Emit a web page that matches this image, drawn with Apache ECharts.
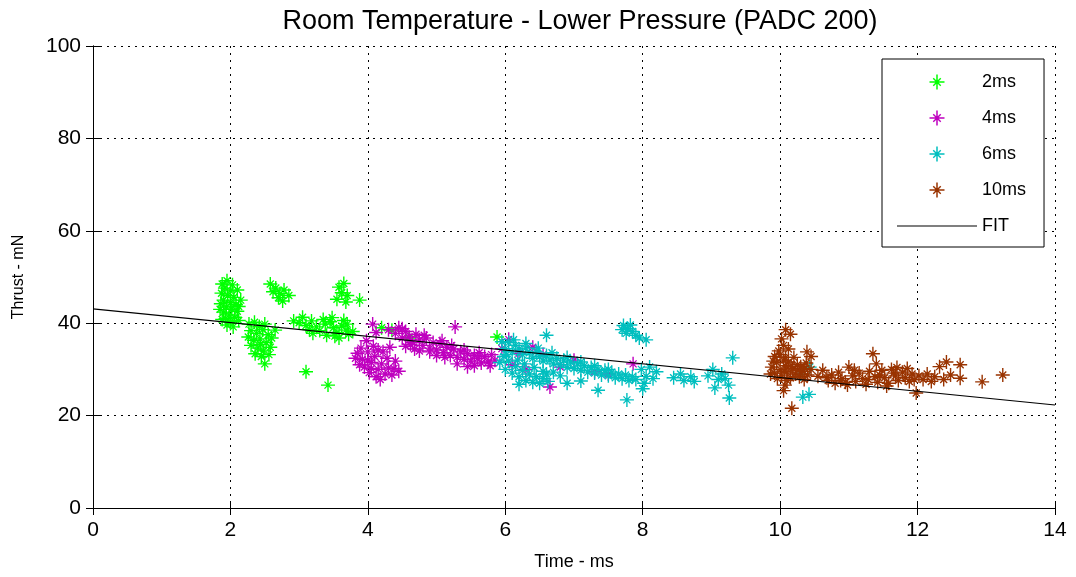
<!DOCTYPE html>
<html>
<head>
<meta charset="utf-8">
<title>Room Temperature - Lower Pressure</title>
<script src="https://cdn.jsdelivr.net/npm/echarts@6/dist/echarts.min.js"></script>
<style>
  html, body { margin: 0; padding: 0; background: #fff; }
  #chart { width: 1076px; height: 577px; }
</style>
</head>
<body>
<div id="chart"></div>
<script>
// [time ms, thrust mN]
var ms2 = [
  [1.88,48.5],[1.95,49.2],[1.92,47.6],[2.0,47.0],[1.87,46.5],[1.96,46.0],[2.05,45.6],[1.9,45.0],
  [2.0,44.5],[2.08,44.0],[1.86,44.2],[1.94,43.5],[2.02,43.0],[2.1,42.6],[1.9,42.4],[1.98,41.8],
  [2.06,41.3],[1.93,41.0],[2.12,40.6],[2.0,40.3],[1.95,39.6],[2.15,45.0],[1.85,43.0],[2.03,48.3],
  [2.1,47.2],[2.12,43.6],[1.88,40.8],[2.04,39.2],
  [2.27,39.8],[2.35,40.2],[2.42,39.3],[2.3,38.4],[2.38,37.8],[2.47,38.6],[2.55,37.5],[2.26,37.0],
  [2.34,36.3],[2.43,36.6],[2.52,35.8],[2.6,36.8],[2.3,35.2],[2.4,34.6],[2.48,34.0],[2.58,34.8],
  [2.36,33.4],[2.45,32.8],[2.5,31.2],[2.65,38.5],[2.5,39.8],[2.44,35.4],[2.56,33.2],
  [2.58,48.5],[2.66,47.6],[2.62,46.8],[2.72,46.4],[2.78,47.2],[2.7,45.5],[2.85,46.0],[2.76,44.8],
  [2.92,40.5],[3.0,40.1],[3.1,39.5],[3.05,41.3],[3.18,40.5],[3.25,39.2],[3.3,38.4],[3.2,37.8],
  [3.38,39.8],[3.45,40.3],[3.5,39.0],[3.55,38.0],[3.62,39.4],[3.68,38.5],[3.72,37.6],[3.58,36.8],
  [3.4,37.4],[3.78,38.2],[3.48,41.2],[3.65,40.6],[3.35,40.8],[3.52,37.2],[3.7,39.8],[3.15,38.6],
  [3.1,29.5],[3.42,26.6],
  [3.58,47.8],[3.65,48.6],[3.62,46.6],[3.7,46.0],[3.55,45.2],[3.68,44.6],[3.88,45.0],
  [5.88,37.0],[4.35,38.5],[4.6,36.8],[4.2,39.0]
];

var ms4 = [
  [3.85,33.5],[3.92,32.2],[4.0,33.8],[4.05,31.5],[3.95,30.5],[4.1,32.8],[4.15,30.0],[4.02,29.3],
  [4.2,31.2],[4.25,29.0],[4.12,28.4],[4.3,30.3],[4.35,28.8],[4.22,33.8],[4.4,31.8],[3.88,31.0],
  [4.08,35.0],[4.18,27.8],[4.45,29.6],[3.98,36.2],[4.07,39.8],[4.12,38.0],
  [3.9,34.6],[4.0,32.0],[4.28,32.4],[4.38,30.2],[4.15,34.2],[3.82,32.4],[4.05,30.2],[4.32,34.8],
  [4.3,38.6],[4.4,37.8],[4.45,39.0],[4.5,36.8],[4.55,38.2],[4.6,37.0],[4.65,35.8],[4.7,37.6],
  [4.75,36.4],[4.8,35.2],[4.85,36.8],[4.9,34.6],[4.95,35.8],[5.0,34.2],[5.05,35.6],[5.1,33.6],
  [5.15,34.8],[5.2,33.0],[5.25,34.4],[5.3,32.6],[5.35,33.8],[5.4,32.2],[5.45,33.4],[5.5,31.8],
  [5.55,33.0],[5.6,32.4],[5.65,31.4],[5.7,32.8],[5.75,31.6],[5.8,33.2],[5.85,32.0],[4.55,35.0],
  [4.75,34.0],[5.0,33.0],[5.3,31.2],[5.27,39.2],[5.55,30.8],
  [4.5,38.8],[4.62,35.4],[4.82,37.4],[4.9,33.8],[5.08,36.2],[5.12,32.6],[5.22,35.2],[5.4,34.2],
  [5.62,33.6],[5.78,30.8],[4.68,34.4],[5.45,30.6],
  [5.95,34.5],[6.05,36.5],[6.2,33.5],[6.4,34.8],[6.55,33.2],[6.65,26.2],[6.8,30.5],[7.0,32.0],
  [7.3,29.5],[7.5,29.0],[7.86,31.2],[6.1,31.0],[6.3,30.0]
];

var ms6 = [
  [5.95,36.0],[6.0,34.5],[6.05,35.8],[6.1,33.8],[6.15,35.2],[6.2,34.4],[6.25,33.2],[6.3,34.6],
  [6.35,33.6],[6.4,32.4],[6.45,33.8],[6.5,32.8],[6.55,31.8],[6.6,33.0],[6.65,32.0],[6.7,31.2],
  [6.75,32.4],[6.8,31.0],[6.85,32.0],[6.9,30.4],[6.95,31.6],[7.0,30.2],[7.05,31.2],[7.1,29.8],
  [7.15,30.8],[7.2,29.4],[7.25,30.4],[7.3,29.2],[7.35,30.0],[7.4,28.8],[7.45,29.8],[7.5,28.6],
  [7.55,29.4],[7.6,28.2],[7.65,29.0],[7.7,28.0],[7.75,28.8],[7.8,27.6],[7.85,28.4],[7.9,27.8],
  [6.12,36.4],[6.3,35.6],[6.48,34.6],[6.68,33.6],[6.9,32.6],[7.1,31.6],[7.3,30.8],[7.5,30.0],
  [5.92,31.5],[6.0,30.0],[6.05,31.8],[6.1,29.2],[6.15,30.6],[6.2,28.4],[6.25,29.8],[6.3,27.6],
  [6.35,29.0],[6.4,27.2],[6.45,28.4],[6.5,27.0],[6.55,28.0],[6.2,26.8],[6.6,29.0],[5.98,32.8],
  [6.02,33.2],[6.18,32.0],[6.28,31.2],[6.42,30.4],[6.55,29.6],[6.7,29.4],[6.8,28.6],[6.62,27.4],
  [6.6,37.4],[7.77,23.4],[7.35,25.5],[6.9,27.0],[7.1,27.5],
  [7.72,39.5],[7.78,38.8],[7.82,39.6],[7.76,37.8],[7.85,38.2],[7.9,37.4],[7.95,36.8],[8.05,36.4],
  [7.7,38.6],
  [7.98,30.0],[8.05,28.5],[8.1,30.5],[8.02,27.0],[8.15,28.0],[8.0,25.8],[8.2,29.5],[8.45,28.2],
  [8.55,29.0],[8.6,27.6],[8.7,28.4],[8.75,27.4],[8.95,28.6],[9.02,30.0],[9.1,27.8],[9.15,29.0],
  [9.2,28.0],[9.25,26.6],[9.31,32.5],[9.26,23.8],[9.05,26.0],
  [10.33,24.0],[10.42,24.6],[10.43,30.5],[10.3,29.0]
];

var ms10 = [
  [9.88,30.5],[9.92,29.2],[9.95,31.5],[10.0,30.0],[10.02,28.6],[10.05,32.0],[10.08,30.8],[10.1,29.4],
  [10.12,31.6],[10.15,28.2],[10.18,30.2],[10.2,32.6],[10.22,29.0],[10.25,31.0],[10.28,28.4],[10.3,30.6],
  [10.33,29.6],[10.38,31.4],[10.4,28.8],[10.45,30.0],[9.9,31.8],[10.0,33.2],[10.1,27.6],[10.35,27.8],
  [9.86,29.0],[9.96,28.0],[10.06,29.6],[10.16,30.6],[10.26,29.8],[10.36,30.2],[10.08,32.6],[9.92,32.8],
  [10.08,38.6],[10.15,37.6],[10.02,36.6],[10.05,35.2],[10.12,34.4],[9.98,34.0],[10.39,33.8],[10.45,32.8],
  [10.07,26.6],[10.17,21.6],[10.05,25.4],
  [10.55,28.5],[10.62,29.8],[10.7,27.6],[10.75,28.8],[10.8,27.0],[10.85,29.4],[10.9,28.0],[10.95,27.2],
  [11.0,30.5],[11.05,28.6],[11.1,27.4],[11.15,29.2],[11.2,28.0],[11.25,26.8],[11.3,29.6],[11.35,33.4],
  [11.38,28.4],[11.42,27.2],[11.48,29.8],[11.52,28.2],[11.58,27.0],[11.62,30.0],[11.68,28.6],[11.72,27.6],
  [11.78,29.4],[11.82,28.2],[11.88,27.4],[11.92,29.0],[11.98,24.9],[12.02,28.6],[11.4,31.2],[11.7,30.4],
  [10.98,26.6],[11.55,26.4],
  [10.68,28.2],[10.88,27.6],[11.08,29.8],[11.28,27.8],[11.45,28.8],[11.65,29.2],[11.85,30.2],[11.95,27.8],
  [12.08,27.8],[12.14,29.0],[12.2,27.4],[12.25,28.4],[12.32,30.6],[12.38,27.8],[12.42,31.6],[12.48,28.8],
  [12.62,31.0],[12.62,28.1],[12.94,27.3],[13.24,28.8]
];

// fitted line end points
var fitX = [0, 14];
var fitY = [43.1, 22.3];

var xTicks = [0, 14, 2];
var yTicks = [0, 100, 20];

var chart = echarts.init(document.getElementById('chart'));

// matlab style '*' marker
var star = 'path://M0 5.4L12 5.4L12 6.6L0 6.6Z M5.4 0L6.6 0L6.6 12L5.4 12Z ' +
  'M2.6 3.4L3.4 2.6L9.4 8.6L8.6 9.4Z M8.6 2.6L9.4 3.4L3.4 9.4L2.6 8.6Z';

var font = 'Liberation Sans, Arial, sans-serif';

function scatter(name, data, color) {
  return {
    name: name,
    type: 'scatter',
    data: data,
    symbol: star,
    symbolSize: 14,
    symbolKeepAspect: true,
    itemStyle: { color: color, opacity: 1 },
    animation: false
  };
}

var tickStyle = { show: true, inside: true, length: 7, lineStyle: { color: '#000' } };

chart.setOption({
  backgroundColor: '#fff',
  title: {
    text: 'Room Temperature - Lower Pressure (PADC 200)',
    left: 575,
    textAlign: 'center',
    top: 3,
    textStyle: { fontFamily: font, fontSize: 27, fontWeight: 'normal', color: '#000' }
  },
  grid: { left: 93, right: 21, top: 46, bottom: 69 },
  legend: {
    left: 882,
    top: 59,
    orient: 'vertical',
    padding: [14, 18, 12, 15],
    itemWidth: 80,
    itemHeight: 15,
    itemGap: 18,
    itemTextGap: 8,
    backgroundColor: '#fff',
    borderColor: '#000',
    borderWidth: 1,
    textStyle: { fontFamily: font, fontSize: 18, color: '#000' },
    data: [
      { name: '2ms', icon: star },
      { name: '4ms', icon: star },
      { name: '6ms', icon: star },
      { name: '10ms', icon: star },
      { name: 'FIT', icon: 'path://M0 0L80 0L80 1.2L0 1.2Z' }
    ]
  },
  xAxis: [{
    type: 'value',
    min: xTicks[0], max: xTicks[1], interval: xTicks[2],
    name: 'Time - ms',
    nameLocation: 'middle',
    nameGap: 45,
    nameTextStyle: { fontFamily: font, fontSize: 18, color: '#000' },
    axisLine: { onZero: false, lineStyle: { color: '#000' } },
    axisTick: tickStyle,
    axisLabel: { fontFamily: font, fontSize: 21, color: '#000', margin: 12 },
    splitLine: { lineStyle: { color: '#000', type: [2, 5], width: 1 } }
  }, {
    type: 'value',
    position: 'top',
    min: xTicks[0], max: xTicks[1], interval: xTicks[2],
    axisLine: { lineStyle: { color: '#000' } },
    axisTick: tickStyle,
    axisLabel: { show: false },
    splitLine: { show: false }
  }],
  yAxis: [{
    type: 'value',
    min: yTicks[0], max: yTicks[1], interval: yTicks[2],
    name: 'Thrust - mN',
    nameLocation: 'middle',
    nameGap: 66,
    nameTextStyle: { fontFamily: font, fontSize: 16, color: '#000' },
    axisLine: { show: true, onZero: false, lineStyle: { color: '#000' } },
    axisTick: tickStyle,
    axisLabel: { fontFamily: font, fontSize: 21, color: '#000', margin: 12 },
    splitLine: { lineStyle: { color: '#000', type: [2, 5], width: 1 } }
  }, {
    type: 'value',
    position: 'right',
    min: yTicks[0], max: yTicks[1], interval: yTicks[2],
    axisLine: { show: true, lineStyle: { color: '#000' } },
    axisTick: tickStyle,
    axisLabel: { show: false },
    splitLine: { show: false }
  }],
  series: [
    scatter('2ms', ms2, '#00ff00'),
    scatter('4ms', ms4, '#bf00bf'),
    scatter('6ms', ms6, '#00bfbf'),
    scatter('10ms', ms10, '#993300'),
    {
      name: 'FIT',
      type: 'line',
      data: fitX.map(function (x, i) { return [x, fitY[i]]; }),
      showSymbol: false,
      symbol: 'none',
      lineStyle: { color: '#000', width: 1.2 },
      itemStyle: { color: '#000' },
      z: 5,
      animation: false
    }
  ]
});
</script>
</body>
</html>
